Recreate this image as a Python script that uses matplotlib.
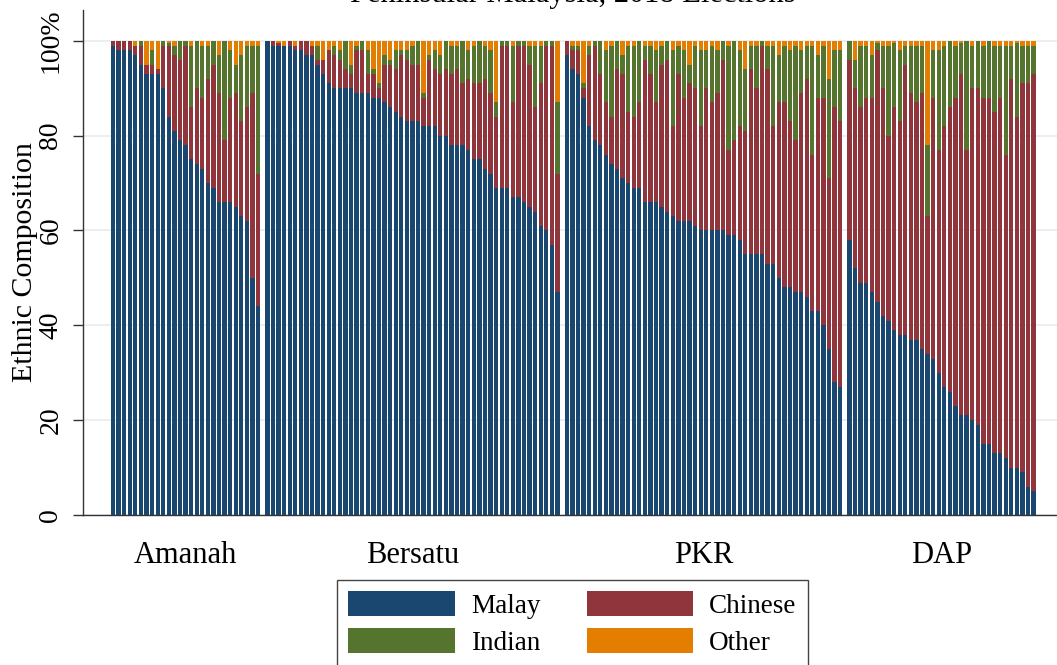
import numpy as np
import matplotlib
matplotlib.use("Agg")
import matplotlib.pyplot as plt
from matplotlib.patches import Patch

plt.rcParams['font.family'] = ['Liberation Serif', 'DejaVu Serif']

parties = ['Amanah', 'Bersatu', 'PKR', 'DAP']
ethnic = ['Malay', 'Chinese', 'Indian', 'Other']
colors = ['#1a476f', '#90353b', '#55752f', '#e37e00']

# seat-level ethnic shares (%), sorted by Malay share within each party
amanah_malay = [99, 98, 98, 98, 97, 95, 93, 93, 93, 90, 84, 81, 79, 78, 75, 74, 73, 70, 69, 66, 66, 66, 65, 63, 62, 50, 44]
amanah_chinese = [1, 2, 2, 2, 2, 4, 2, 2, 1, 9, 15, 16, 17, 21, 11, 16, 15, 22, 26, 23, 13, 22, 24, 20, 24, 39, 28]
amanah_indian = [0, 0, 0, 0, 0, 1, 0, 3, 0, 1, 0.5, 2, 4, 1, 13, 10, 11, 7, 5, 8, 21, 10, 6, 14, 13, 10, 27]
amanah_other = [0, 0, 0, 0, 1, 0, 5, 2, 6, 0, 0.5, 1, 0, 0, 1, 0, 1, 1, 0, 3, 0, 2, 5, 3, 1, 1, 1]

bersatu_malay = [100, 99, 99, 99, 99, 98, 98, 97, 97, 95, 93, 91, 90, 90, 90, 90, 89, 89, 89, 88, 88, 87, 86, 85, 84, 83,
                 83, 83, 82, 82, 82, 80, 80, 78, 78, 78, 77, 75, 75, 73, 72, 69, 69, 69, 67, 67, 66, 65, 64, 61, 60, 57, 47]
bersatu_chinese = [0, 1, 0.5, 0, 1, 1, 2, 3, 2, 1, 3, 7, 7, 6, 4, 3, 9, 9, 4, 5, 2, 8, 9, 9, 13, 13,
                   12, 12, 6, 14, 12, 13, 14, 15, 16, 13, 15, 16, 16, 19, 17, 15, 30, 30, 20, 32, 33, 30, 22, 30, 39, 42, 25]
bersatu_indian = [0, 0, 0, 0, 0, 0, 0, 0, 0, 3, 0, 0, 2, 2, 6, 2, 1, 2, 5, 1, 1, 2, 1, 4, 1, 2,
                  4, 5, 1, 1, 4, 4, 6, 6, 5, 9, 6, 8, 9, 7, 9, 3, 1, 1, 12, 1, 1, 4, 13, 8, 1, 1, 15]
bersatu_other = [0, 0, 0.5, 1, 0, 1, 0, 0, 1, 1, 4, 2, 1, 2, 0, 5, 1, 0, 2, 6, 9, 3, 4, 2, 2, 2,
                 1, 0, 11, 3, 2, 3, 0, 1, 1, 0, 2, 1, 0, 1, 2, 13, 0, 0, 1, 0, 0, 1, 1, 1, 0, 0, 13]

pkr_malay = [97, 94, 93, 88, 82, 79, 78, 76, 74, 73, 71, 70, 69, 69, 66, 66, 66, 65, 64, 63, 62, 62, 62, 61, 60,
             60, 60, 60, 60, 59, 59, 58, 55, 55, 55, 55, 53, 53, 50, 48, 48, 47, 47, 46, 43, 43, 40, 35, 28, 27]
pkr_chinese = [3, 4, 5, 2, 15, 20, 15, 11, 10, 21, 22, 15, 15, 18, 30, 27, 21, 30, 32, 19, 31, 26, 29, 29, 22,
               30, 27, 29, 36, 18, 20, 24, 26, 39, 35, 44, 41, 29, 37, 39, 35, 32, 42, 46, 33, 45, 48, 36, 58, 56]
pkr_indian = [0, 1, 1, 1, 2, 1, 7, 11, 15, 6, 4, 14, 15, 13, 3, 6, 11, 4, 4, 16, 6, 10, 4, 9, 16,
              8, 12, 9, 4, 22, 21, 16, 13, 5, 9, 1, 5, 17, 10, 12, 15, 20, 9, 7, 23, 9, 11, 21, 12, 15]
pkr_other = [0, 1, 1, 9, 1, 0, 0, 2, 1, 0, 3, 1, 1, 0, 1, 1, 2, 1, 0, 2, 1, 2, 5, 1, 2,
             2, 1, 2, 0, 1, 0, 2, 6, 1, 1, 0, 1, 1, 3, 1, 2, 1, 2, 1, 1, 3, 1, 8, 2, 2]

dap_malay = [58, 52, 49, 49, 47, 45, 42, 41, 39, 38, 38, 37, 37, 35, 34, 33, 30, 27, 26, 23, 21, 21, 20, 19, 15, 15,
             13, 13, 12, 10, 10, 9, 6, 5]
dap_chinese = [38, 38, 37, 39, 41, 53, 48, 39, 47, 45, 57, 52, 50, 54, 29, 55, 47, 55, 60, 65, 72, 56, 70, 71, 73, 73,
               72, 75, 64, 82, 74, 82, 85, 88]
dap_indian = [4, 6, 13, 11, 9, 1.5, 9, 19, 13.5, 15, 4, 10, 12, 10, 15, 10, 21, 17, 14, 11, 6.5, 23, 9, 10, 11, 12,
              14, 11, 23, 7, 15.5, 8, 8, 6]
dap_other = [0, 4, 1, 1, 3, 0.5, 1, 1, 0.5, 2, 1, 1, 1, 1, 22, 2, 2, 1, 0, 1, 0.5, 0, 1, 0, 1, 0,
             1, 1, 1, 1, 0.5, 1, 1, 1]

groups = [
    (amanah_malay, amanah_chinese, amanah_indian, amanah_other),
    (bersatu_malay, bersatu_chinese, bersatu_indian, bersatu_other),
    (pkr_malay, pkr_chinese, pkr_indian, pkr_other),
    (dap_malay, dap_chinese, dap_indian, dap_other),
]

fig = plt.figure(figsize=(10.57, 6.65), dpi=100)
ax = fig.add_axes([83 / 1057, 150 / 665, 974 / 1057, 505 / 665])

group_gap = 0.667
start = 0.0
centers = []
for g, series in enumerate(groups):
    n = len(series[0])
    x = start + np.arange(n)
    bottom = np.zeros(n)
    for vals, col in zip(series, colors):
        vals = np.array(vals, dtype=float)
        ax.bar(x, vals, width=0.77, bottom=bottom, color=col, linewidth=0)
        bottom += vals
    centers.append(x.mean())
    start = x[-1] + 1 + group_gap

ax.set_xlim(-5.38, 169.2)
ax.set_ylim(0, 106.5)

ax.set_yticks([0, 20, 40, 60, 80, 100])
ax.set_yticklabels(['0', '20', '40', '60', '80', '100%'], rotation=90, va='center', fontsize=20)
ax.tick_params(axis='y', direction='out', length=7.2, width=1, color='#333333', pad=7)
ax.set_xticks(centers)
ax.set_xticklabels(parties, fontsize=22)
ax.tick_params(axis='x', length=0, pad=19)

ax.yaxis.grid(True, color='#e6eef0', linewidth=1.2)
ax.set_axisbelow(True)
for s in ['top', 'right']:
    ax.spines[s].set_visible(False)
for s in ['left', 'bottom']:
    ax.spines[s].set_color('#333333')
    ax.spines[s].set_linewidth(1)

ax.set_ylabel('Ethnic Composition', fontsize=21.5)
ax.yaxis.set_label_coords(-45 / 974, 0.5)

fig.text(573 / 1057, 1 - 2 / 665, 'Peninsular Malaysia, 2018 Elections', ha='center', va='baseline', fontsize=22)

order = [0, 2, 1, 3]
handles = [Patch(facecolor=colors[i], edgecolor='none', label=ethnic[i]) for i in order]
leg = ax.legend(handles=handles, ncol=2, loc='upper left',
                bbox_to_anchor=(337 / 1057, 85 / 665), bbox_transform=fig.transFigure,
                borderaxespad=0, fontsize=19.5, handlelength=3.93, handleheight=1.04,
                handletextpad=0.6, columnspacing=1.7, labelspacing=0.33, borderpad=0.42,
                fancybox=False, framealpha=1, edgecolor='#444444')
leg.get_frame().set_linewidth(1)

fig.savefig('out.png', dpi=100)
